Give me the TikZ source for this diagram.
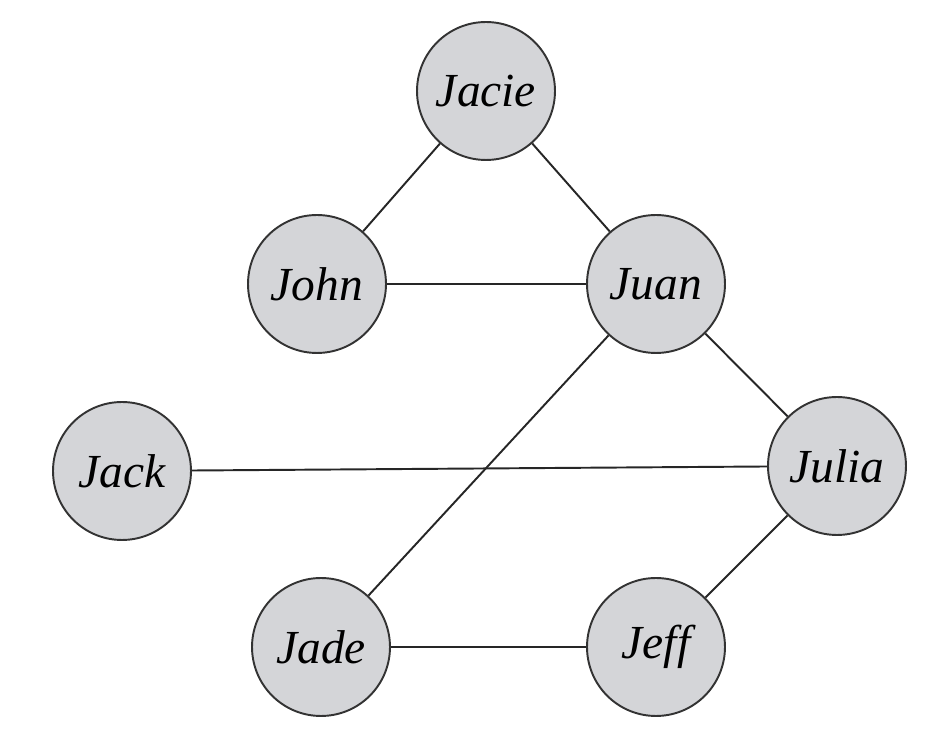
\documentclass[tikz,border=0pt]{standalone}
\usepackage{fontspec}
\setmainfont{Liberation Serif}
\begin{document}
\begin{tikzpicture}[x=0.02cm,y=-0.02cm,
  person/.style={circle,draw=black!80,line width=1.1pt,fill={rgb,255:red,212;green,213;blue,216},
    minimum size=2.76cm,inner sep=0pt,font=\fontsize{27}{30}\selectfont\itshape},
  link/.style={line width=1.1pt,draw=black!85}]
\useasboundingbox (0,0) rectangle (948,742);
\node[person] (jacie) at (486,91) {Jacie};
\node[person] (john) at (317,284) {John};
\node[person] (juan) at (656,284) {Juan};
\node[person] (jack) at (122,471) {Jack};
\node[person] (julia) at (837,466) {Julia};
\node[person] (jade) at (321,647) {Jade};
\node[person] (jeff) at (656,647) {Jeff};
\draw[link] (jacie) -- (john);
\draw[link] (jacie) -- (juan);
\draw[link] (john) -- (juan);
\draw[link] (juan) -- (julia);
\draw[link] (juan) -- (jade);
\draw[link] (jack) -- (julia);
\draw[link] (julia) -- (jeff);
\draw[link] (jade) -- (jeff);
\end{tikzpicture}
\end{document}
